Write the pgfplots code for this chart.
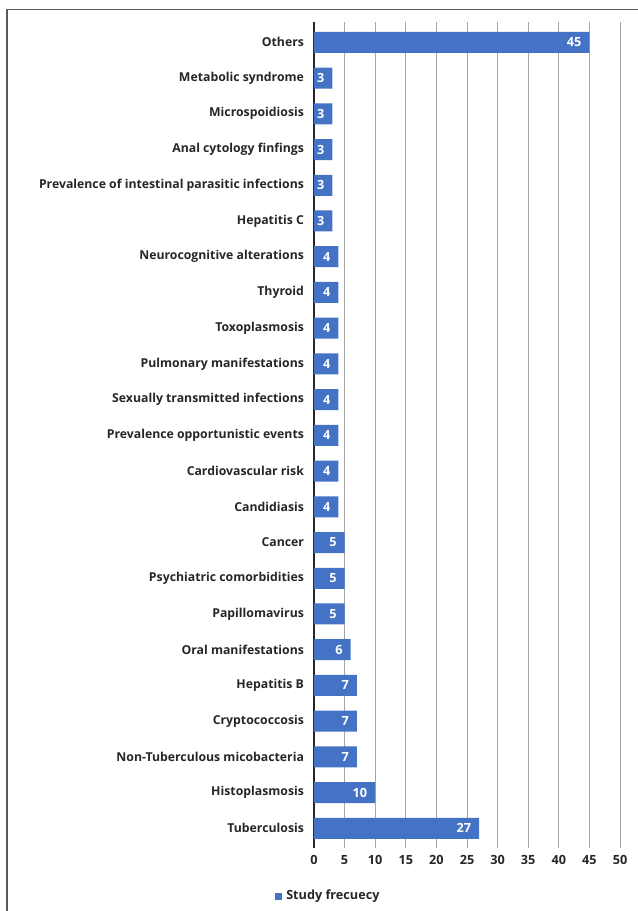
\documentclass[border=0pt]{standalone}
\usepackage{pgfplots}
\pgfplotsset{compat=1.18}
\usepackage{fontspec}
\setmainfont{Open Sans}
\definecolor{barblue}{HTML}{4472C4}
\definecolor{txt}{HTML}{262626}
\begin{document}
\begin{tikzpicture}
\useasboundingbox (0,0) rectangle (478.5pt,683.25pt);
\draw[gray!70!black, line width=0.8pt] (5.25pt,0) -- (5.25pt,676pt) -- (478.5pt,676pt);
\begin{axis}[
  at={(235.5pt,47.25pt)}, anchor=south west,
  width=229.5pt, height=619.5pt, scale only axis,
  xbar, bar width=15.75pt,
  xmin=0, xmax=50, ymin=-0.55, ymax=22.57,
  xtick={0,5,...,50}, ytick={0,...,22},
  yticklabels={Tuberculosis,Histoplasmosis,Non-Tuberculous micobacteria,Cryptococcosis,Hepatitis B,Oral manifestations,Papillomavirus,Psychiatric comorbidities,Cancer,Candidiasis,Cardiovascular risk,Prevalence opportunistic events,Sexually transmitted infections,Pulmonary manifestations,Toxoplasmosis,Thyroid,Neurocognitive alterations,Hepatitis C,Prevalence of intestinal parasitic infections,Anal cytology finfings,Microspoidiosis,Metabolic syndrome,Others},
  major tick length=0pt,
  xmajorgrids, major grid style={gray!70, line width=0.6pt},
  axis y line*=left,
  separate axis lines,
  y axis line style={draw=black!85, line width=1.3pt},
  x axis line style={draw=none},
  tick label style={font=\bfseries\fontsize{9.2}{11}\selectfont, text=txt},
  /pgf/number format/assume math mode=true,
  xticklabel style={yshift=-2pt, font=\bfseries\fontsize{9.5}{11}\selectfont},
  yticklabel style={xshift=-4pt},
  nodes near coords,
  nodes near coords style={font=\bfseries\fontsize{9.5}{11}\selectfont, text=white, anchor=east, xshift=-2.5pt},
  clip=false,
]
\addplot[fill=barblue, draw=none] coordinates {
(27,0) (10,1) (7,2) (7,3) (7,4) (6,5) (5,6) (5,7) (5,8) (4,9) (4,10) (4,11) (4,12) (4,13) (4,14) (4,15) (4,16) (3,17) (3,18) (3,19) (3,20) (3,21) (45,22)};
\end{axis}
\fill[barblue] (206.25pt,8.5pt) rectangle (211.5pt,13.75pt);
\node[anchor=west, font=\bfseries\fontsize{9.5}{11}\selectfont, text=txt, inner sep=0pt] at (214.5pt,11.2pt) {Study frecuecy};
\end{tikzpicture}
\end{document}
